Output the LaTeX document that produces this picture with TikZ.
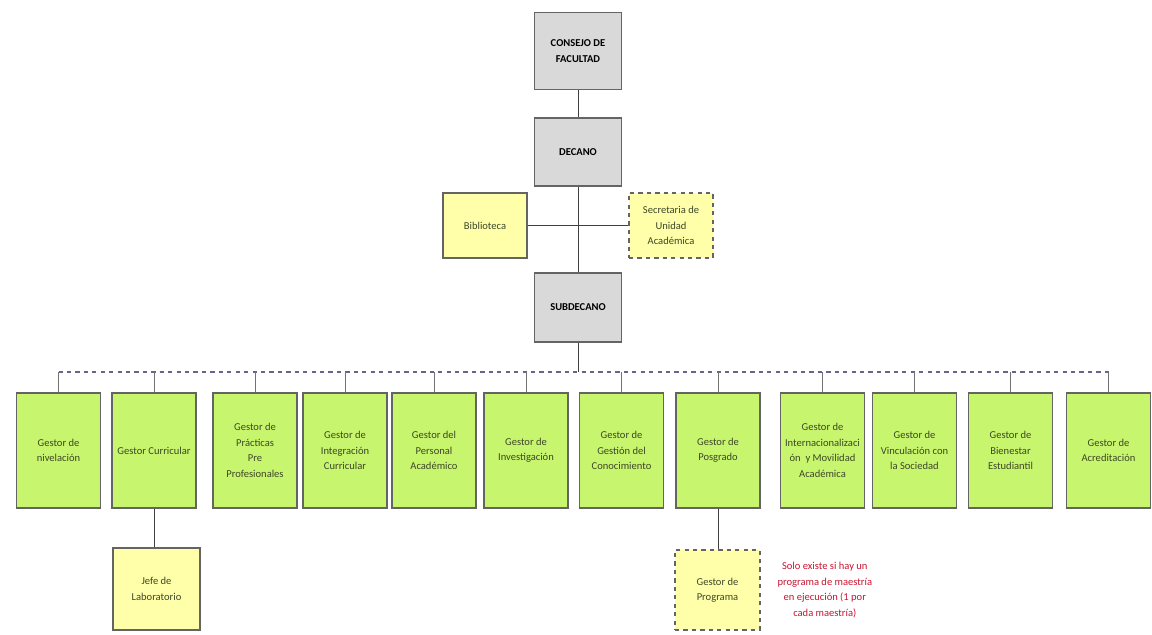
\documentclass[tikz,border=0pt]{standalone}
\usepackage{fontspec}
\setmainfont{Carlito}
\usetikzlibrary{calc,positioning}

\definecolor{boxgray}{RGB}{217,217,217}
\definecolor{boxyellow}{RGB}{255,255,170}
\definecolor{boxgreen}{RGB}{200,245,110}
\definecolor{edgegray}{RGB}{100,100,100}
\definecolor{textdark}{RGB}{60,70,40}
\definecolor{notered}{RGB}{200,20,50}
\definecolor{busblue}{RGB}{100,100,140}

\tikzset{
  unitbox/.style={draw=edgegray, line width=0.8pt, align=center, inner sep=1pt,
    font=\fontsize{7.5}{11}\selectfont, text=textdark},
  headbox/.style={unitbox, fill=boxgray, minimum width=2.175cm, text=black,
    font=\fontsize{7.5}{11}\selectfont\bfseries},
  staffbox/.style={unitbox, fill=boxyellow, minimum width=2.1cm, minimum height=1.625cm},
  gestorbox/.style={unitbox, fill=boxgreen, minimum width=2.1cm, minimum height=2.875cm},
  link/.style={draw=black!75, line width=0.6pt},
  tick/.style={draw=black!55, line width=0.5pt}
}

\begin{document}
\begin{tikzpicture}[x=0.025cm, y=-0.025cm]
			%%%%% START %%%%%
			\useasboundingbox (0,0) rectangle (1152,634);
			
			% direccion
			\node[headbox, minimum height=1.925cm] (consejo) at (578,51) {CONSEJO DE\\FACULTAD};
			\node[headbox, minimum height=1.7cm] (decano) at (578,152) {DECANO};
			\node[headbox, minimum height=1.725cm] (subdecano) at (578,307.5) {SUBDECANO};
			
			\node[staffbox] (biblio) at (485,225.5) {Biblioteca};
			\node[staffbox, dashed] (secret) at (671,225.5) {Secretaria de\\Unidad\\Académica};
			
			\draw[link] (consejo.south) -- (decano.north);
			\draw[link] (decano.south) -- (subdecano.north);
			\draw[link] (biblio.east) -- (secret.west);
			
			% gestores
			\node[gestorbox] (g1) at (58.5,450.5) {Gestor de\\nivelación};
			\node[gestorbox] (g2) at (154,450.5) {Gestor Curricular};
			\node[gestorbox] (g3) at (255,450.5) {Gestor de\\Prácticas\\Pre\\Profesionales};
			\node[gestorbox] (g4) at (345,450.5) {Gestor de\\Integración\\Curricular};
			\node[gestorbox] (g5) at (434,450.5) {Gestor del\\Personal\\Académico};
			\node[gestorbox] (g6) at (526,450.5) {Gestor de\\Investigación};
			\node[gestorbox] (g7) at (621.5,450.5) {Gestor de\\Gestión del\\Conocimiento};
			\node[gestorbox] (g8) at (718,450.5) {Gestor de\\Posgrado};
			\node[gestorbox] (g9) at (822.5,450.5) {Gestor de\\Internacionalizaci\\ón\ \ y Movilidad\\Académica};
			\node[gestorbox] (g10) at (914.5,450.5) {Gestor de\\Vinculación con\\la Sociedad};
			\node[gestorbox] (g11) at (1010.5,450.5) {Gestor de\\Bienestar\\Estudiantil};
			\node[gestorbox] (g12) at (1108.5,450.5) {Gestor de\\Acreditación};
			
			\coordinate (bus) at (578,372);
			\draw[link] (subdecano.south) -- (bus);
			\draw[line width=1pt, color=busblue, dashed] (g1.north |- bus) -- (g12.north |- bus);
			\foreach \g in {g1,g2,g3,g4,g5,g6,g7,g8,g9,g10,g11,g12}
			  \draw[tick] (\g.north |- bus) -- (\g.north);
			
			% dependencias
			\node[staffbox, minimum width=2.175cm, minimum height=2.05cm] (jefe) at (156.5,589) {Jefe de\\Laboratorio};
			\node[staffbox, dashed, minimum width=2.125cm, minimum height=2cm] (programa) at (717.5,590) {Gestor de\\Programa};
			\draw[link] (g2.south) -- (g2.south |- jefe.north);
			\draw[link] (g8.south) -- (g8.south |- programa.north);
			
			\node[right=0.3cm of programa, align=center, text=notered,
			  font=\fontsize{7.5}{11}\selectfont] (nota)
			  {Solo existe si hay un\\programa de maestría\\en ejecución (1 por\\cada maestría)};
			
			%%%%% END %%%%%
\end{tikzpicture}
\end{document}
